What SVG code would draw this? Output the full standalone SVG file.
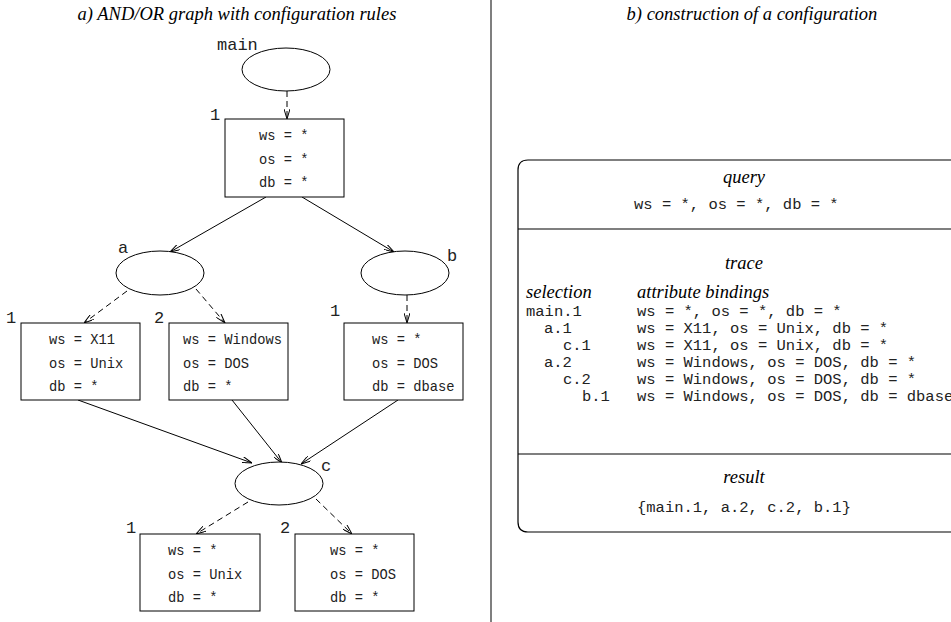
<svg xmlns="http://www.w3.org/2000/svg" width="951" height="622" viewBox="0 0 951 622">
<style>
.title{font-family:"Liberation Serif","Times New Roman",serif;font-style:italic;font-size:18.5px;fill:#000}
.mono{font-family:"Liberation Mono","Courier New",monospace;fill:#222}
.box{font-size:13.75px}
.lbl{font-size:17px}
.big{font-size:15.5px}
.node{fill:#fff;stroke:#000;stroke-width:1}
.edge{fill:none;stroke:#000;stroke-width:1}
.dash{stroke-dasharray:6,4}
</style>
<defs>
<marker id="arr" viewBox="0 0 10 6" refX="10" refY="3" markerWidth="10" markerHeight="6" markerUnits="userSpaceOnUse" orient="auto">
<path d="M0,0 L10,3 L0,6" fill="none" stroke="#000" stroke-width="1"/>
</marker>
</defs>
<rect width="951" height="622" fill="#fff"/>
<line x1="491" y1="0" x2="491" y2="622" stroke="#555" stroke-width="1.5"/>
<text class="title" x="237" y="20" text-anchor="middle">a) AND/OR graph with configuration rules</text>
<text class="title" x="752" y="20" text-anchor="middle">b) construction of a configuration</text>

<g id="connectors">
<line class="edge dash" x1="287" y1="91" x2="287" y2="119" marker-end="url(#arr)"/>
<line class="edge" x1="266" y1="197" x2="170" y2="252" marker-end="url(#arr)"/>
<line class="edge" x1="302" y1="197" x2="394" y2="252" marker-end="url(#arr)"/>
<line class="edge dash" x1="127" y1="291" x2="84" y2="323" marker-end="url(#arr)"/>
<line class="edge dash" x1="196" y1="289" x2="225" y2="323" marker-end="url(#arr)"/>
<line class="edge dash" x1="407" y1="295" x2="407" y2="323" marker-end="url(#arr)"/>
<line class="edge" x1="78" y1="400" x2="252" y2="463" marker-end="url(#arr)"/>
<line class="edge" x1="232" y1="400" x2="282" y2="463" marker-end="url(#arr)"/>
<line class="edge" x1="398" y1="400" x2="301" y2="464" marker-end="url(#arr)"/>
<line class="edge dash" x1="248" y1="502" x2="196" y2="534" marker-end="url(#arr)"/>
<line class="edge dash" x1="316" y1="499" x2="352" y2="534" marker-end="url(#arr)"/>
</g>

<g id="main">
<ellipse class="node" cx="286" cy="69.5" rx="44" ry="21.5"/>
<text class="mono lbl" x="217" y="50">main</text>
</g>
<g id="rule-main-1">
<rect class="node" x="225" y="119" width="119" height="78"/>
<text class="mono lbl" x="210" y="120">1</text>
<text class="mono box" x="259" y="140">ws = *</text>
<text class="mono box" x="259" y="164">os = *</text>
<text class="mono box" x="259" y="187">db = *</text>
</g>
<g id="a">
<ellipse class="node" cx="160" cy="273" rx="44" ry="22"/>
<text class="mono lbl" x="118" y="253">a</text>
</g>
<g id="b">
<ellipse class="node" cx="405" cy="273" rx="44" ry="22"/>
<text class="mono lbl" x="447" y="261">b</text>
</g>
<g id="rule-a-1">
<rect class="node" x="21" y="323" width="119" height="77"/>
<text class="mono lbl" x="6" y="323">1</text>
<text class="mono box" x="49" y="344">ws = X11</text>
<text class="mono box" x="49" y="368">os = Unix</text>
<text class="mono box" x="49" y="391">db = *</text>
</g>
<g id="rule-a-2">
<rect class="node" x="169" y="323" width="119" height="77"/>
<text class="mono lbl" x="154" y="323">2</text>
<text class="mono box" x="183" y="344">ws = Windows</text>
<text class="mono box" x="183" y="368">os = DOS</text>
<text class="mono box" x="183" y="391">db = *</text>
</g>
<g id="rule-b-1">
<rect class="node" x="344" y="323" width="119" height="77"/>
<text class="mono lbl" x="330" y="316">1</text>
<text class="mono box" x="372" y="344">ws = *</text>
<text class="mono box" x="372" y="368">os = DOS</text>
<text class="mono box" x="372" y="391">db = dbase</text>
</g>
<g id="c">
<ellipse class="node" cx="279" cy="483.5" rx="44" ry="21.5"/>
<text class="mono lbl" x="321" y="471">c</text>
</g>
<g id="rule-c-1">
<rect class="node" x="140" y="534" width="120" height="77"/>
<text class="mono lbl" x="126" y="533">1</text>
<text class="mono box" x="168" y="555">ws = *</text>
<text class="mono box" x="168" y="579">os = Unix</text>
<text class="mono box" x="168" y="602">db = *</text>
</g>
<g id="rule-c-2">
<rect class="node" x="295" y="534" width="119" height="77"/>
<text class="mono lbl" x="280" y="533">2</text>
<text class="mono box" x="330" y="555">ws = *</text>
<text class="mono box" x="330" y="579">os = DOS</text>
<text class="mono box" x="330" y="602">db = *</text>
</g>

<g id="construction">
<path d="M970,160 L528,160 Q518,160 518,170 L518,522 Q518,532 528,532 L970,532" fill="none" stroke="#000" stroke-width="1.2"/>
<line x1="518" y1="229" x2="951" y2="229" stroke="#000" stroke-width="1.2"/>
<line x1="518" y1="454" x2="951" y2="454" stroke="#000" stroke-width="1.2"/>
<text class="title" x="744" y="183" text-anchor="middle">query</text>
<text class="mono big" x="634" y="209">ws = *, os = *, db = *</text>
<text class="title" x="744" y="269" text-anchor="middle">trace</text>
<text class="title" x="526" y="298">selection</text>
<text class="title" x="637" y="298">attribute bindings</text>
<text class="mono big" x="526" y="316">main.1</text>
<text class="mono big" x="637" y="316">ws = *, os = *, db = *</text>
<text class="mono big" x="544" y="333">a.1</text>
<text class="mono big" x="637" y="333">ws = X11, os = Unix, db = *</text>
<text class="mono big" x="563" y="350">c.1</text>
<text class="mono big" x="637" y="350">ws = X11, os = Unix, db = *</text>
<text class="mono big" x="544" y="367">a.2</text>
<text class="mono big" x="637" y="367">ws = Windows, os = DOS, db = *</text>
<text class="mono big" x="563" y="384">c.2</text>
<text class="mono big" x="637" y="384">ws = Windows, os = DOS, db = *</text>
<text class="mono big" x="582" y="401">b.1</text>
<text class="mono big" x="637" y="401">ws = Windows, os = DOS, db = dbase</text>
<text class="title" x="744" y="483" text-anchor="middle">result</text>
<text class="mono big" x="637" y="512">{main.1, a.2, c.2, b.1}</text>
</g>
</svg>
